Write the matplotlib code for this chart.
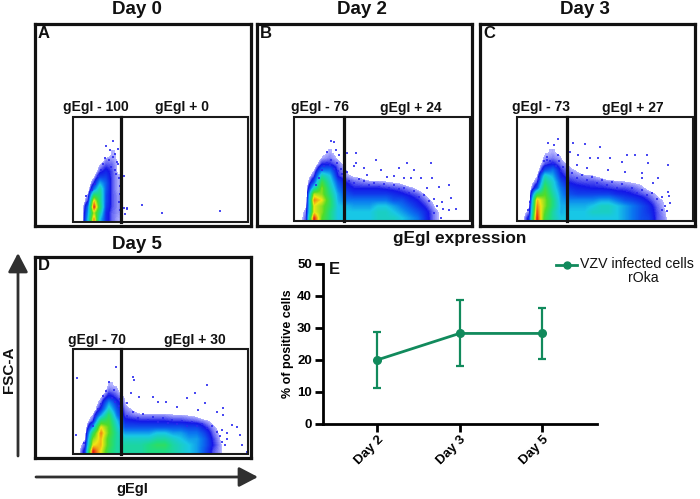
#Recreate flow cytometry panels (A-D) and gE/gI time course (E)
import matplotlib
matplotlib.use('Agg')
import matplotlib.pyplot as pyplot
import numpy as np
from matplotlib.colors import LinearSegmentedColormap
from matplotlib.patches import Rectangle

#######################
###Static Parameters###
#######################
W, H = 700, 499
CELL_Y = 6
legendGreen = '#118a5c'
arrowGrey = '#303030'

#time course values (panel E)
days = ['Day 2', 'Day 3', 'Day 5']
meanPos = [20.0, 28.3, 28.3]
lowPos = [11.2, 18.0, 20.2]
highPos = [28.7, 38.8, 36.4]
yTicks = [0, 10, 20, 30, 40, 50]

#gate percentages
negA, posA = 100, 0
negB, posB = 76, 24
negC, posC = 73, 27
negD, posD = 70, 30

#density, 0 (empty) to 10 (red), first row is at the gate bottom
densA = [
    [0, 0, 3.5, 9, 3.5, 1.5, .9, .6],
    [0, 0, 3, 7.5, 4.5, 1.5, .9, .7],
    [0, 0, 2.5, 10, 5.5, 1.8, 1, .7],
    [0, 0, 1.2, 8.5, 5, 2, 1, .7],
    [0, 0, .7, 5.5, 5, 2, 1, .7],
    [0, 0, 0, 2.5, 4.5, 2.2, 1, .6],
    [0, 0, 0, 1.2, 3.2, 2.2, 1, .6],
    [0, 0, 0, .5, 1.8, 1.8, 1, .6],
    [0, 0, 0, 0, 1, 1.4, 1, .5],
    [0, 0, 0, 0, .6, 1, .9, .5],
    [0, 0, 0, 0, 0, .7, .7, .5],
    [0, 0, 0, 0, 0, 0, .6, .5],
]
densB = [
    [0, 1, 10, 6.5, 5, 3.5, 3.5, 3.5, 3.5, 3.5, 4, 4, 4, 3.5, 3, 2.5, 1.5, .8, .4, 0],
    [0, .8, 8, 7, 5, 3.5, 3.5, 3.5, 3.5, 3.5, 4, 4, 3.5, 3, 2.5, 2, 1.4, .8, .4, 0],
    [0, .5, 8, 7, 5.5, 3.5, 3.3, 3, 3, 3, 3.5, 3.5, 3, 2.5, 2, 1.5, 1.1, .6, 0, 0],
    [0, 0, 9, 8, 5.5, 3.2, 2.5, 2.5, 2.5, 2.5, 2.5, 2.5, 2, 2, 1.5, 1.2, .8, .4, 0, 0],
    [0, 0, 7.5, 7, 5, 3, 2, 1.7, 1.7, 1.7, 1.7, 1.7, 1.5, 1.3, 1.1, .9, .5, 0, 0, 0],
    [0, 0, 4, 7, 4.5, 2.5, 1.5, 1.2, 1.2, 1.2, 1.2, 1.1, 1, .9, .7, .4, 0, 0, 0, 0],
    [0, 0, 2, 6, 4, 2, 1.2, .9, .8, .7, .7, .6, .5, .4, 0, 0, 0, 0, 0, 0],
    [0, 0, 1, 4.5, 3.5, 1.2, .7, .5, .4, 0, 0, 0, 0, 0, 0, 0, 0, 0, 0, 0],
    [0, 0, .5, 2.5, 2.5, 1, .6, 0, 0, 0, 0, 0, 0, 0, 0, 0, 0, 0, 0, 0],
    [0, 0, 0, 1.2, 1.2, .8, .4, 0, 0, 0, 0, 0, 0, 0, 0, 0, 0, 0, 0, 0],
    [0, 0, 0, .6, .8, .5, 0, 0, 0, 0, 0, 0, 0, 0, 0, 0, 0, 0, 0, 0],
    [0, 0, 0, .4, .6, .4, 0, 0, 0, 0, 0, 0, 0, 0, 0, 0, 0, 0, 0, 0],
]
densC = [
    [0, 1.5, 10, 6, 4.5, 3.5, 3.5, 3.5, 3.5, 3.5, 3.5, 3.5, 3.5, 3, 2.5, 2, 1.8, 1, .7, 0],
    [0, .8, 9.5, 6.5, 4.5, 3.2, 3.5, 3.5, 3.5, 4, 4, 4, 3.5, 3, 2.5, 2, 1.6, 1, .6, 0],
    [0, .5, 9, 7, 5, 3.2, 3.2, 3.2, 3.2, 3.5, 4, 4, 3.5, 3, 2.5, 2, 1.5, .9, .5, 0],
    [0, 0, 8.5, 7, 5, 3, 2.7, 2.7, 2.7, 2.7, 3, 3, 2.5, 2, 1.8, 1.5, 1.1, .7, .5, 0],
    [0, 0, 5.5, 6.5, 4.5, 2.8, 2, 1.8, 1.8, 1.8, 1.8, 1.8, 1.5, 1.4, 1.2, 1, .8, .5, 0, 0],
    [0, 0, 2, 6, 4, 2.5, 1.6, 1.4, 1.3, 1.2, 1.2, 1.1, 1, 1, .9, .7, .4, 0, 0, 0],
    [0, 0, 1, 5, 3.8, 2, 1.2, 1.05, 1, 1, .9, .8, .7, .6, .5, .4, 0, 0, 0, 0],
    [0, 0, .5, 4, 3.2, 1.4, .9, .8, .7, .6, .4, 0, 0, 0, 0, 0, 0, 0, 0, 0],
    [0, 0, 0, 2, 2.5, 1.1, .7, .5, 0, 0, 0, 0, 0, 0, 0, 0, 0, 0, 0, 0],
    [0, 0, 0, 1, 1.3, .8, .5, 0, 0, 0, 0, 0, 0, 0, 0, 0, 0, 0, 0, 0],
    [0, 0, 0, .7, .8, .6, 0, 0, 0, 0, 0, 0, 0, 0, 0, 0, 0, 0, 0, 0],
    [0, 0, 0, .5, .6, .4, 0, 0, 0, 0, 0, 0, 0, 0, 0, 0, 0, 0, 0, 0],
]
densD = [
    [0, 1.5, 10, 8, 5.5, 4.5, 4.5, 4.5, 4.5, 5, 5, 5, 4.5, 4, 3.5, 3, 2, 1, .6, 0],
    [0, 1, 8, 8.5, 6, 4.5, 4.5, 4.5, 4.5, 5, 5.5, 5.5, 4.5, 4, 3.5, 3, 2.2, 1.2, .6, 0],
    [0, .5, 7, 8.5, 6, 4.5, 4, 4, 4, 4, 4.5, 4.5, 4, 3.5, 3, 3, 2.2, 1.1, .5, 0],
    [0, .2, 5.5, 9, 6.5, 4.5, 3, 3, 3, 3, 3.5, 3.5, 3, 3, 2.5, 2.5, 1.8, .9, .4, 0],
    [0, 0, 3, 8, 6.5, 4, 2, 2, 2, 2, 2, 2, 2, 2, 1.8, 1.8, 1.2, .7, .3, 0],
    [0, 0, 1.1, 5.5, 6, 3.5, 1.4, 1.3, 1.2, 1.2, 1.2, 1.2, 1.1, 1.1, 1, .9, .7, .4, 0, 0],
    [0, 0, .6, 3, 5.5, 2.5, 1, .8, .7, .7, .7, .7, .6, .6, .5, .4, 0, 0, 0, 0],
    [0, 0, 0, 1.5, 4, 2, .8, .5, 0, 0, 0, 0, 0, 0, 0, 0, 0, 0, 0, 0],
    [0, 0, 0, .9, 3, 1.5, .6, 0, 0, 0, 0, 0, 0, 0, 0, 0, 0, 0, 0, 0],
    [0, 0, 0, .5, 1.5, 1, .5, 0, 0, 0, 0, 0, 0, 0, 0, 0, 0, 0, 0, 0],
    [0, 0, 0, 0, .9, .7, 0, 0, 0, 0, 0, 0, 0, 0, 0, 0, 0, 0, 0, 0],
    [0, 0, 0, 0, .6, .5, 0, 0, 0, 0, 0, 0, 0, 0, 0, 0, 0, 0, 0, 0],
]

#stray events outside the dense cloud (gE/gI channel, FSC channel)
strayAx = [40, 33, 37, 42, 45, 32, 45, 43, 47, 13, 52, 52, 55, 53, 69, 89, 148, 55,
           36, 40, 38, 42, 46, 30, 28, 47, 46, 25, 22, 44, 47, 19]
strayAy = [81, 76, 72, 68, 73, 64, 58, 48, 36, 26, 46, 14, 14, 8, 17, 9, 11, 13,
           62, 65, 55, 52, 44, 58, 52, 28, 20, 46, 38, 60, 12, 32]
strayBx = [37, 40, 33, 42, 37, 45, 53, 62, 62, 82, 53, 70, 87, 105, 113, 137, 120, 110, 138,
           145, 155, 148, 157, 162, 155, 147, 73, 93, 100, 127, 117, 133, 60,
           30, 33, 36, 28, 40, 44, 47, 43, 48, 25, 22,
           55, 60, 65, 70, 75, 80, 85, 90, 95, 100, 105, 110, 115, 120, 125, 130, 135, 140, 143, 140, 149]
strayBy = [80, 79, 69, 71, 61, 66, 68, 68, 58, 61, 49, 53, 51, 53, 58, 58, 51, 43, 43,
           34, 36, 19, 23, 12, 11, 3, 46, 44, 45, 43, 43, 33, 55,
           55, 58, 56, 51, 52, 50, 52, 58, 47, 43, 36,
           40, 38, 42, 40, 36, 38, 34, 37, 33, 36, 32, 33, 28, 30, 24, 26, 20, 22, 15, 8, 12]
strayCx = [41, 31, 37, 41, 30, 56, 68, 83, 53, 61, 73, 81, 93, 110, 118, 130, 105, 131, 151,
           60, 70, 91, 108, 125, 141, 125, 136, 151, 153, 145, 13, 11,
           27, 30, 33, 36, 39, 42, 44, 25, 22, 46,
           55, 60, 65, 70, 75, 80, 85, 90, 95, 100, 105, 110, 115, 120, 125, 130, 135, 140, 145, 148, 150, 152]
strayCy = [82, 78, 76, 66, 61, 78, 77, 74, 69, 66, 63, 63, 63, 66, 66, 66, 59, 58, 56,
           56, 53, 51, 49, 48, 43, 43, 38, 29, 18, 11, 19, 11,
           60, 64, 60, 58, 55, 60, 50, 50, 42, 54,
           48, 43, 46, 41, 44, 38, 41, 36, 39, 33, 37, 30, 33, 28, 31, 26, 28, 22, 24, 15, 10, 25]
strayDx = [43, 60, 61, 4, 36, 41, 58, 135, 123, 80, 66, 93, 115, 55, 85, 105, 133, 151, 145,
           151, 160, 165, 155, 168, 170, 175, 11, 3, 153, 126,
           30, 33, 36, 39, 28, 25, 42, 46, 48, 22, 20,
           55, 60, 65, 70, 75, 80, 85, 90, 95, 100, 105, 110, 115, 120, 125, 130, 135, 140, 145, 150, 155, 150, 148]
strayDy = [87, 77, 74, 76, 72, 64, 61, 69, 61, 57, 57, 52, 56, 51, 52, 47, 51, 46, 42,
           39, 29, 27, 21, 19, 9, 2, 11, 19, 9, 44,
           58, 63, 60, 56, 50, 45, 52, 48, 55, 38, 28,
           38, 42, 36, 40, 34, 37, 32, 36, 31, 34, 30, 33, 28, 32, 28, 30, 26, 28, 22, 24, 15, 12, 18]

flowMap = LinearSegmentedColormap.from_list('flow', [
    (0.00, '#b4b4ff'), (0.07, '#1418e8'), (0.21, '#0a78f0'), (0.31, '#19c8e6'),
    (0.47, '#1edc82'), (0.63, '#50dc28'), (0.79, '#f0e614'), (0.89, '#f08214'),
    (1.00, '#e61414')])
flowMap.set_under((1, 1, 1, 0))


def px_axes(fig, left, top, right, bottom):
    '''
    Add axes from pixel edges of the figure (y counted from the top)
    :return: matplotlib axes
    '''
    return fig.add_axes([left/W, 1-bottom/H, (right-left)/W, (bottom-top)/H])


def plt_flow(fig, frame, gate, divide, dens, cellX, strayX, strayY):
    '''
    Draw one flow panel: frame, density cloud, stray events and the two gates
    :param frame: left, top, right, bottom of panel in pixels
    :param gate: left, top, right, bottom of gate in pixels
    :param divide: x pixel of the line between gE/gI negative and positive
    :return: matplotlib axes
    '''
    ax = px_axes(fig, *frame)
    dens = np.array(dens, dtype=float)
    ax.imshow(dens, origin='lower', aspect='auto', cmap=flowMap, vmin=.55, vmax=10,
              interpolation='bilinear', interpolation_stage='data',
              extent=(0, dens.shape[1]*cellX, 0, dens.shape[0]*CELL_Y))
    ax.scatter(strayX, strayY, s=3, marker='s', color='#2a2af0', linewidths=0, alpha=.85)
    ax.set_xlim(frame[0]-gate[0], frame[2]-gate[0])
    ax.set_ylim(gate[3]-frame[3], gate[3]-frame[1])
    ax.add_patch(Rectangle((0, 0), gate[2]-gate[0], gate[3]-gate[1], fill=False,
                           edgecolor='#1a1a1a', linewidth=1.5))
    ax.plot([divide-gate[0]]*2, [0, gate[3]-gate[1]], color='#111111', lw=2.3)
    ax.set_xticks([])
    ax.set_yticks([])
    for side in ax.spines.values():
        side.set_linewidth(2.3)
        side.set_color('#111111')
    return ax


def label(fig, x, y, txt, size=10, weight='bold', **kwargs):
    '''
    Put text at a pixel position of the figure
    '''
    fig.text(x/W, 1-y/H, txt, fontsize=size, fontweight=weight, ha='center', va='center',
             family='Liberation Sans', color='#111111', **kwargs)


fig = pyplot.figure(figsize=(W/100, H/100), dpi=100)

plt_flow(fig, (35, 24, 251, 226), (72.5, 117, 248, 222), 121.5, densA, 6, strayAx, strayAy)
plt_flow(fig, (257, 24, 472, 226), (294, 117, 470, 221), 344, densB, 8, strayBx, strayBy)
plt_flow(fig, (480, 24, 695, 226), (517, 117, 693, 221), 566.5, densC, 8, strayCx, strayCy)
plt_flow(fig, (35, 257, 251, 458), (72.5, 349, 248, 454), 121.5, densD, 8, strayDx, strayDy)

label(fig, 137, 9, 'Day 0', 13.5)
label(fig, 362, 9, 'Day 2', 13.5)
label(fig, 585, 9, 'Day 3', 13.5)
label(fig, 137, 244, 'Day 5', 13.5)
label(fig, 460, 239, 'gEgI expression', 12.4)

label(fig, 96, 107, 'gEgI - %d' % negA)
label(fig, 182, 107, 'gEgI + %d' % posA)
label(fig, 320, 107, 'gEgI - %d' % negB)
label(fig, 411, 108, 'gEgI + %d' % posB)
label(fig, 541, 107, 'gEgI - %d' % negC)
label(fig, 633, 108, 'gEgI + %d' % posC)
label(fig, 97, 340, 'gEgI - %d' % negD)
label(fig, 195, 340, 'gEgI + %d' % posD)

label(fig, 44, 33, 'A', 12)
label(fig, 266, 33, 'B', 12)
label(fig, 489, 33, 'C', 12)
label(fig, 44, 265, 'D', 12)
label(fig, 334, 269, 'E', 12)

#axis arrows of the flow plots
over = fig.add_axes([0, 0, 1, 1], facecolor='none')
over.set_xlim(0, W)
over.set_ylim(H, 0)
over.axis('off')
over.annotate('', xy=(18, 253), xytext=(18, 456),
              arrowprops=dict(arrowstyle='-|>,head_width=.6,head_length=1.15', lw=2, color=arrowGrey, shrinkA=0, shrinkB=0))
over.annotate('', xy=(258, 477), xytext=(36, 477),
              arrowprops=dict(arrowstyle='-|>,head_width=.6,head_length=1.15', lw=2, color=arrowGrey, shrinkA=0, shrinkB=0))
label(fig, 9, 370, 'FSC-A', 11, rotation=90)
label(fig, 132, 489, 'gEgI', 10.5)

#panel E
ax = px_axes(fig, 323, 264, 597, 424)
ax.errorbar(range(len(days)), meanPos,
            yerr=[np.array(meanPos)-np.array(lowPos), np.array(highPos)-np.array(meanPos)],
            color=legendGreen, marker='o', ms=5.5, lw=2, capsize=3.2, capthick=1.6, elinewidth=1.6)
ax.set_xlim(-.655, 2.667)
ax.set_ylim(0, 50)
ax.set_yticks(yTicks)
ax.set_xticks(range(len(days)))
ax.set_xticklabels(days, rotation=45, ha='right', rotation_mode='anchor')
ax.set_ylabel('% of positive cells', fontsize=9, fontweight='bold', family='Liberation Sans', labelpad=2)
ax.tick_params(width=2, length=6, pad=2, labelsize=9.5)
ax.tick_params(axis='x', pad=1)
for tick in ax.get_xticklabels()+ax.get_yticklabels():
    tick.set_fontweight('bold')
    tick.set_family('Liberation Sans')
ax.spines['top'].set_visible(False)
ax.spines['right'].set_visible(False)
ax.spines['left'].set_linewidth(2)
ax.spines['bottom'].set_linewidth(2)
ax.patch.set_alpha(0)

#legend written by hand so the marker sits on the first line
over.plot([556, 577], [265, 265], color=legendGreen, lw=2)
over.plot([566.5], [265], color=legendGreen, marker='o', ms=5)
label(fig, 636.5, 264, 'VZV infected cells', 10.2, weight='normal')
label(fig, 643, 278, 'rOka', 10.2, weight='normal')

pyplot.savefig('out.png', dpi=100)
